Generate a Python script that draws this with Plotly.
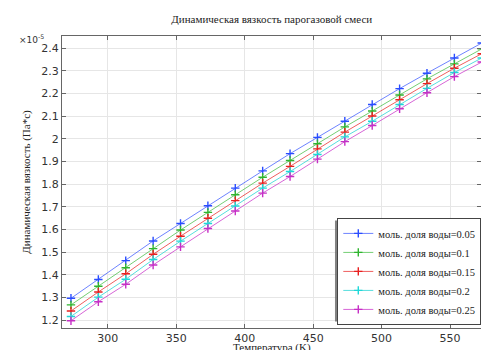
import plotly.graph_objects as go

# Temperature, K
temperature = [273.15, 293.15, 313.15, 333.15, 353.15, 373.15, 393.15, 413.15,
               433.15, 453.15, 473.15, 493.15, 513.15, 533.15, 553.15, 573.15]

# Dynamic viscosity, in units of 1e-5 Pa*s
visc_005 = [1.296, 1.379, 1.462, 1.549, 1.626, 1.704, 1.782, 1.858,
            1.934, 2.006, 2.077, 2.151, 2.221, 2.289, 2.356, 2.422]
visc_010 = [1.267, 1.349, 1.431, 1.515, 1.597, 1.675, 1.753, 1.830,
            1.904, 1.978, 2.052, 2.122, 2.193, 2.264, 2.330, 2.396]
visc_015 = [1.240, 1.324, 1.404, 1.490, 1.570, 1.649, 1.727, 1.804,
            1.878, 1.955, 2.029, 2.100, 2.172, 2.243, 2.311, 2.375]
visc_020 = [1.216, 1.301, 1.380, 1.467, 1.548, 1.626, 1.703, 1.782,
            1.855, 1.930, 2.008, 2.077, 2.151, 2.222, 2.292, 2.356]
visc_025 = [1.197, 1.281, 1.358, 1.443, 1.523, 1.604, 1.681, 1.760,
            1.833, 1.910, 1.987, 2.058, 2.132, 2.203, 2.274, 2.338]

series_names = ["моль. доля воды=0.05", "моль. доля воды=0.1", "моль. доля воды=0.15",
                "моль. доля воды=0.2", "моль. доля воды=0.25"]
series_values = [visc_005, visc_010, visc_015, visc_020, visc_025]
marker_colors = ["#2a4dff", "#2fb52f", "#e82020", "#1fd8d8", "#c62fc6"]
line_colors = ["rgba(60,90,255,0.75)", "rgba(70,190,70,0.75)", "rgba(232,40,40,0.75)",
               "rgba(30,210,210,0.75)", "rgba(200,50,200,0.75)"]

x_ticks = [300, 350, 400, 450, 500, 550]
y_ticks = [1.2, 1.3, 1.4, 1.5, 1.6, 1.7, 1.8, 1.9, 2.0, 2.1, 2.2, 2.3, 2.4]
y_ticktext = ["1.2", "1.3", "1.4", "1.5", "1.6", "1.7", "1.8", "1.9", "2", "2.1", "2.2", "2.3", "2.4"]

serif = "Liberation Serif, Times New Roman, serif"
sans = "DejaVu Sans, sans-serif"

fig = go.Figure()
for name, vals, mc, lc in zip(series_names, series_values, marker_colors, line_colors):
    fig.add_trace(go.Scatter(
        x=temperature, y=vals, name=name, mode="lines+markers",
        line=dict(color=lc, width=1),
        marker=dict(symbol="cross-thin-open", size=6, color=mc,
                    line=dict(color=mc, width=1.4)),
    ))

fig.update_layout(
    width=481, height=350,
    margin=dict(l=62, r=0, t=36, b=22, autoexpand=False),
    paper_bgcolor="white", plot_bgcolor="white",
    title=dict(text="Динамическая вязкость парогазовой смеси",
               font=dict(family=serif, size=11, color="#222"),
               x=0.565, xanchor="center", y=0.945, yanchor="middle"),
    showlegend=True,
    legend=dict(x=0.657, y=0.377, xanchor="left", yanchor="top",
                bgcolor="white", bordercolor="#444", borderwidth=1,
                font=dict(family=serif, size=10.5, color="#222"),
                tracegroupgap=0, itemwidth=30),
    shapes=[dict(type="rect", xref="paper", yref="paper",
                 x0=0.6515, x1=0.99, y0=0.022, y1=0.368,
                 fillcolor="rgba(100,100,100,0.8)", line=dict(width=0), layer="above")],
)

fig.update_xaxes(
    range=[266.6, 572.6], tickvals=x_ticks,
    ticks="inside", ticklen=4, tickcolor="#666",
    showline=True, linecolor="#666", linewidth=1, mirror="ticks",
    showgrid=True, gridcolor="#e6e6e6", gridwidth=1, zeroline=False,
    tickfont=dict(family=sans, size=11, color="#333"),
)
fig.update_yaxes(
    range=[1.165, 2.453], tickvals=y_ticks, ticktext=y_ticktext,
    ticks="inside", ticklen=4, tickcolor="#666",
    showline=True, linecolor="#666", linewidth=1, mirror="ticks",
    showgrid=True, gridcolor="#e6e6e6", gridwidth=1, zeroline=False,
    tickfont=dict(family=sans, size=11, color="#333"),
    title=dict(text="Динамическая вязкость (Па*с)", font=dict(family=serif, size=11, color="#222"),
               standoff=8),
)

fig.add_annotation(text="Температура (K)", xref="paper", yref="paper",
                   x=0.5, y=-0.066, xanchor="center", yanchor="middle",
                   showarrow=False, font=dict(family=serif, size=11, color="#222"))
fig.add_annotation(text="×10<sup>-5</sup>", xref="paper", yref="paper",
                   x=-0.038, y=0.99, xanchor="right", yanchor="middle",
                   showarrow=False, font=dict(family=sans, size=9, color="#333"))

fig.write_html("out.html")
